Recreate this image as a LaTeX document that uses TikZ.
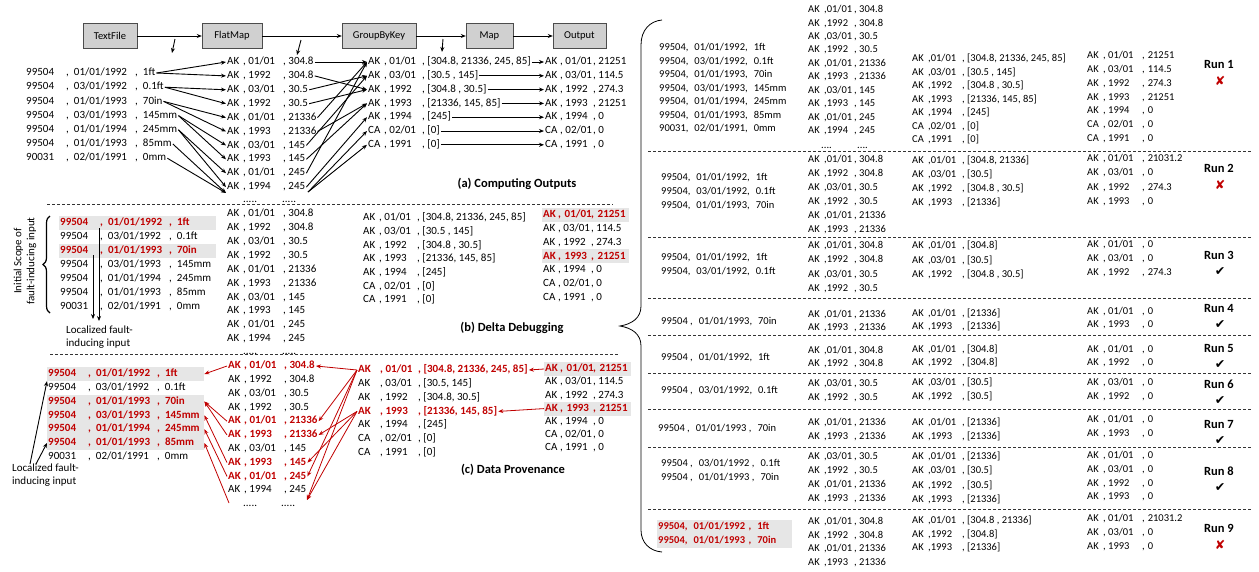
\documentclass[tikz,border=0pt]{standalone}
\usepackage{fontspec}
\setmainfont{Carlito}
\newfontfamily\symfont{DejaVu Sans}
\usepackage{xcolor}
\usepackage{tikz}
\usetikzlibrary{positioning,arrows.meta,decorations.pathreplacing}
\definecolor{provred}{HTML}{C00000}
\definecolor{hlgray}{HTML}{E6E6E6}
\definecolor{opgray}{HTML}{D0D0D0}
% record layouts with aligned columns
\newcommand{\inrec}[3]{\makebox[40pt][l]{#1}\makebox[69pt][l]{,\hspace{5pt}#2},\hspace{5pt}#3}
\newcommand{\fmrec}[3]{\makebox[16pt][l]{#1}\makebox[40pt][l]{, #2}, #3}
\newcommand{\gbrec}[3]{\makebox[16pt][l]{#1}\makebox[38pt][l]{, #2}, #3}
\newcommand{\pvrec}[3]{\makebox[22pt][l]{#1}\makebox[38pt][l]{, #2}, #3}
\newcommand{\outrec}[3]{\makebox[15pt][l]{#1}\makebox[33pt][l]{, #2}, #3}
\newcommand{\rin}[3]{#1,\hspace{6pt}#2,\hspace{6pt}#3}
\newcommand{\rfm}[3]{\makebox[16pt][l]{#1}\makebox[30pt][l]{,#2}, #3}
\newcommand{\rgb}[3]{\makebox[16pt][l]{#1}\makebox[34pt][l]{,#2}, #3}
\newcommand{\rout}[3]{\makebox[16pt][l]{#1}\makebox[39pt][l]{, #2},\hspace{3pt}#3}
\newcommand{\passmark}{{\symfont ✔}}
\newcommand{\failmark}{{\symfont\color{provred}✘}}
% one column of a run table: [style] prefix, x, first y, step, rows
\newcommand{\runcol}[6][]{%
  \foreach \t [count=\k from 0] in {#6}
    \node[runrec,#1] (#2\k) at (#3,#4+#5*\k) {\t};}
\newcommand{\ainlist}{\inrec{99504}{01/01/1992}{1ft},\inrec{99504}{03/01/1992}{0.1ft},\inrec{99504}{01/01/1993}{70in},\inrec{99504}{03/01/1993}{145mm},\inrec{99504}{01/01/1994}{245mm},\inrec{99504}{01/01/1993}{85mm},\inrec{90031}{02/01/1991}{0mm}}
\newcommand{\fmlist}{\fmrec{AK}{01/01}{304.8},\fmrec{AK}{1992}{304.8},\fmrec{AK}{03/01}{30.5},\fmrec{AK}{1992}{30.5},\fmrec{AK}{01/01}{21336},\fmrec{AK}{1993}{21336},\fmrec{AK}{03/01}{145},\fmrec{AK}{1993}{145},\fmrec{AK}{01/01}{245},\fmrec{AK}{1994}{245}}
\newcommand{\gblist}{\gbrec{AK}{01/01}{[304.8, 21336, 245, 85]},\gbrec{AK}{03/01}{[30.5 , 145]},\gbrec{AK}{1992}{[304.8 , 30.5]},\gbrec{AK}{1993}{[21336, 145, 85]},\gbrec{AK}{1994}{[245]},\gbrec{CA}{02/01}{[0]},\gbrec{CA}{1991}{[0]}}
\newcommand{\outlist}{\outrec{AK}{01/01}{21251},\outrec{AK}{03/01}{114.5},\outrec{AK}{1992}{274.3},\outrec{AK}{1993}{21251},\outrec{AK}{1994}{0},\outrec{CA}{02/01}{0},\outrec{CA}{1991}{0}}

\begin{document}
\begin{tikzpicture}[x=1pt, y=-1pt,
    opbox/.style={rectangle, draw=black!70, fill=opgray, minimum height=25pt,
        inner sep=0pt, font=\fontsize{10.5}{12}\selectfont},
    rec/.style={anchor=west, inner xsep=1pt, inner ysep=2pt, text height=7.6pt,
        text depth=2.4pt, font=\fontsize{11}{13}\selectfont},
    runrec/.style={rec, font=\fontsize{10.5}{12}\selectfont},
    plainrec/.style={},
    redrec/.style={text=provred, font=\fontsize{11}{13}\selectfont\bfseries},
    hotin/.style={redrec, fill=hlgray, text width=155pt, align=left},
    hotout/.style={redrec, fill=hlgray, text width=85pt, align=left},
    hotrun/.style={text=provred, font=\fontsize{10.5}{12}\selectfont\bfseries,
        fill=hlgray, text width=133pt, align=left},
    panelcap/.style={font=\fontsize{12.5}{15}\selectfont\bfseries},
    runlabel/.style={font=\fontsize{12.5}{15}\selectfont\bfseries},
    runmark/.style={font=\fontsize{12.5}{14}\selectfont, inner sep=0pt},
    notetext/.style={anchor=north west, align=left, inner sep=0pt,
        font=\fontsize{11}{13}\selectfont},
    divider/.style={black!80, dash pattern=on 3pt off 2pt, line width=0.6pt},
    arrow/.style={-{Stealth[length=5pt,width=4pt]}, line width=0.9pt},
    provarrow/.style={arrow, draw=provred, line width=0.8pt}
]
\useasboundingbox (0,0) rectangle (1259,571);

% (a) computing outputs
\node[opbox, minimum width=54pt] (textfile) at (110,36)   {TextFile};
\node[opbox, minimum width=60pt] (flatmap)  at (232,36)   {FlatMap};
\node[opbox, minimum width=74pt] (groupby)  at (379,36)   {GroupByKey};
\node[opbox, minimum width=47pt] (mapop)    at (489.5,36) {Map};
\node[opbox, minimum width=53pt] (output)   at (579.5,36) {Output};
\draw[arrow] (textfile) -- (flatmap);
\draw[arrow] (flatmap) -- (groupby);
\draw[arrow] (groupby) -- (mapop);
\draw[arrow] (mapop) -- (output);
\coordinate (tickin)  at (175,39); \coordinate (tickinend)  at (172,53);
\coordinate (tickfm)  at (301,40); \coordinate (tickfmend)  at (297,55);
\coordinate (tickgb)  at (443,39); \coordinate (tickgbend)  at (442,52);
\draw[arrow] (tickin) -- (tickinend);
\draw[arrow] (tickfm) -- (tickfmend);
\draw[arrow] (tickgb) -- (tickgbend);

\foreach \t [count=\k from 0] in \ainlist \node[rec] (ain\k) at (25,73+14.2*\k) {\t};
\foreach \t [count=\k from 0] in \fmlist  \node[rec] (afm\k) at (226,62+13.9*\k) {\t};
\foreach \t [count=\k from 0] in \gblist  \node[rec] (agb\k) at (367,62+13.8*\k) {\t};
\foreach \t [count=\k from 0] in \outlist \node[rec] (aout\k) at (544,62+13.8*\k) {\t};
\node[rec] (adots1) at (242,200) {.....};
\node[rec] (adots2) at (281,200) {.....};
\coordinate (afmmore) at (226,193);
\coordinate (agbmore) at (308,192);

\foreach \i/\j in {0/0,0/1,1/2,1/3,2/4,2/5,3/6,3/7,4/8,4/9}
  \draw[arrow] (ain\i.east) -- (afm\j.west);
\draw[arrow] (ain5.east) -- (afmmore);
\draw[arrow] (ain6.east) -- (afmmore);
\foreach \i/\j in {0/0,1/2,2/1,3/2,4/0,5/3,6/1,7/3,8/0,9/4}
  \draw[arrow] (afm\i.east) -- (agb\j.west);
\draw[arrow] (agbmore) -- (agb5.west);
\draw[arrow] (agbmore) -- (agb6.west);
\foreach \k in {0,...,6} \draw[arrow] (agb\k.east) -- (aout\k.west);
\node[panelcap] (capa) at (517,184) {(a) Computing Outputs};

\draw[divider] (47,204) -- (613,204);

% (b) delta debugging
\foreach \s/\t [count=\k from 0] in {hotin/{\inrec{99504}{01/01/1992}{1ft}},
    plainrec/{\inrec{99504}{03/01/1992}{0.1ft}}, hotin/{\inrec{99504}{01/01/1993}{70in}},
    plainrec/{\inrec{99504}{03/01/1993}{145mm}}, plainrec/{\inrec{99504}{01/01/1994}{245mm}},
    plainrec/{\inrec{99504}{01/01/1993}{85mm}}, plainrec/{\inrec{90031}{02/01/1991}{0mm}}}
  \node[rec,\s] (bin\k) at (59,223+14*\k) {\t};
\foreach \t [count=\k from 0] in \fmlist \node[rec] (bfm\k) at (226,214+13.9*\k) {\t};
\foreach \t [count=\k from 0] in \gblist \node[rec] (bgb\k) at (362,218+13.7*\k) {\t};
\foreach \s/\t [count=\k from 0] in {hotout/{\outrec{AK}{01/01}{21251}},
    plainrec/{\outrec{AK}{03/01}{114.5}}, plainrec/{\outrec{AK}{1992}{274.3}},
    hotout/{\outrec{AK}{1993}{21251}}, plainrec/{\outrec{AK}{1994}{0}},
    plainrec/{\outrec{CA}{02/01}{0}}, plainrec/{\outrec{CA}{1991}{0}}}
  \node[rec,\s] (bout\k) at (542,215+13.8*\k) {\t};
\node[rec] (bdots1) at (242,352) {.....};
\node[rec] (bdots2) at (281,352) {.....};

\draw[decorate, decoration={brace, amplitude=7pt}, line width=1.2pt] (50,313) -- (50,216);
\node[rotate=90, align=center, font=\fontsize{11}{13}\selectfont] (scope) at (25,261)
    {Initial Scope of\\fault-inducing input};
\node[notetext] (blocal) at (66,326) {Localized fault-\\inducing input};
\coordinate (bpick0) at (99,228); \coordinate (bdrop0) at (99,321);
\coordinate (bpick2) at (93,255); \coordinate (bdrop2) at (93,319);
\draw[arrow, line width=0.8pt] (bpick0) -- (bdrop0);
\draw[arrow, line width=0.8pt] (bpick2) -- (bdrop2);
\node[panelcap] (capb) at (512,328) {(b) Delta Debugging};

\draw[divider] (50,354) -- (618,354);

% (c) data provenance
\foreach \s/\t [count=\k from 0] in {hotin/{\inrec{99504}{01/01/1992}{1ft}},
    plainrec/{\inrec{99504}{03/01/1992}{0.1ft}}, hotin/{\inrec{99504}{01/01/1993}{70in}},
    hotin/{\inrec{99504}{03/01/1993}{145mm}}, hotin/{\inrec{99504}{01/01/1994}{245mm}},
    hotin/{\inrec{99504}{01/01/1993}{85mm}}, plainrec/{\inrec{90031}{02/01/1991}{0mm}}}
  \node[rec,\s] (cin\k) at (47,374+13.8*\k) {\t};
\foreach \s/\t [count=\k from 0] in {redrec/{\fmrec{AK}{01/01}{304.8}},
    plainrec/{\fmrec{AK}{1992}{304.8}}, plainrec/{\fmrec{AK}{03/01}{30.5}},
    plainrec/{\fmrec{AK}{1992}{30.5}}, redrec/{\fmrec{AK}{01/01}{21336}},
    redrec/{\fmrec{AK}{1993}{21336}}, plainrec/{\fmrec{AK}{03/01}{145}},
    redrec/{\fmrec{AK}{1993}{145}}, redrec/{\fmrec{AK}{01/01}{245}},
    plainrec/{\fmrec{AK}{1994}{245}}}
  \node[rec,\s] (cfm\k) at (227,366+13.8*\k) {\t};
\foreach \s/\t [count=\k from 0] in {redrec/{\pvrec{AK}{01/01}{[304.8, 21336, 245, 85]}},
    plainrec/{\pvrec{AK}{03/01}{[30.5, 145]}}, plainrec/{\pvrec{AK}{1992}{[304.8, 30.5]}},
    redrec/{\pvrec{AK}{1993}{[21336, 145, 85]}}, plainrec/{\pvrec{AK}{1994}{[245]}},
    plainrec/{\pvrec{CA}{02/01}{[0]}}, plainrec/{\pvrec{CA}{1991}{[0]}}}
  \node[rec,\s] (cgb\k) at (357,370+13.8*\k) {\t};
\foreach \s/\t [count=\k from 0] in {hotout/{\outrec{AK}{01/01}{21251}},
    plainrec/{\outrec{AK}{03/01}{114.5}}, plainrec/{\outrec{AK}{1992}{274.3}},
    hotout/{\outrec{AK}{1993}{21251}}, plainrec/{\outrec{AK}{1994}{0}},
    plainrec/{\outrec{CA}{02/01}{0}}, plainrec/{\outrec{CA}{1991}{0}}}
  \node[rec,\s] (cout\k) at (544,369+13.2*\k) {\t};
\node[rec] (cdots1) at (242,504) {.....};
\node[rec] (cdots2) at (280,504) {.....};
\coordinate (cfmmore) at (307,500);
\coordinate (cinmore) at (229,503);

\draw[provarrow] (cout0.west) -- (cgb0.east);
\draw[provarrow] (cout3.west) -- (cgb3.east);
\foreach \j in {0,4,8} \draw[provarrow] (cgb0.west) -- (cfm\j.east);
\draw[provarrow] (cgb0.west) -- (cfmmore);
\foreach \j in {5,7} \draw[provarrow] (cgb3.west) -- (cfm\j.east);
\draw[provarrow] (cgb3.west) -- (cfmmore);
\foreach \i/\j in {0/0,4/2,5/2,7/3,8/4} \draw[provarrow] (cfm\i.west) -- (cin\j.east);
\draw[provarrow] (cinmore) -- (cin5.east);

\node[notetext] (clocal) at (12,464) {Localized fault-\\inducing input};
\draw[arrow] ([xshift=18pt]clocal.north west) -- (cin0.south west);
\draw[arrow] ([xshift=24pt]clocal.north west) -- (cin5.west);
\node[panelcap] (capc) at (513,470) {(c) Data Provenance};

% brace towards the runs
\draw[line width=0.8pt] (662,20) .. controls (650,21) and (641,30) .. (641,45)
    -- (641,306) .. controls (641,318) and (632,324) .. (620,326)
    .. controls (632,328) and (641,334) .. (641,346)
    -- (641,530) .. controls (641,543) and (650,551) .. (662,552);

% delta debugging runs
\runcol{r1in}{658}{48}{13.5}{\rin{99504}{01/01/1992}{1ft},\rin{99504}{03/01/1992}{0.1ft},
  \rin{99504}{01/01/1993}{70in},\rin{99504}{03/01/1993}{145mm},\rin{99504}{01/01/1994}{245mm},
  \rin{99504}{01/01/1993}{85mm},\rin{90031}{02/01/1991}{0mm}}
\runcol{r1fm}{807}{10}{13.45}{\rfm{AK}{01/01}{304.8},\rfm{AK}{1992}{304.8},
  \rfm{AK}{03/01}{30.5},\rfm{AK}{1992}{30.5},\rfm{AK}{01/01}{21336},\rfm{AK}{1993}{21336},
  \rfm{AK}{03/01}{145},\rfm{AK}{1993}{145},\rfm{AK}{01/01}{245},\rfm{AK}{1994}{245}}
\runcol{r1gb}{911}{59}{13.5}{\rgb{AK}{01/01}{[304.8, 21336, 245, 85]},
  \rgb{AK}{03/01}{[30.5 , 145]},\rgb{AK}{1992}{[304.8 , 30.5]},
  \rgb{AK}{1993}{[21336, 145, 85]},\rgb{AK}{1994}{[245]},\rgb{CA}{02/01}{[0]},
  \rgb{CA}{1991}{[0]}}
\runcol{r1out}{1086}{56}{13.8}{\rout{AK}{01/01}{21251},\rout{AK}{03/01}{114.5},
  \rout{AK}{1992}{274.3},\rout{AK}{1993}{21251},\rout{AK}{1994}{0},
  \rout{CA}{02/01}{0},\rout{CA}{1991}{0}}
\node[runrec] (r1dots1) at (820,146) {....};
\node[runrec] (r1dots2) at (856,146) {....};

\runcol{r2in}{660}{178}{13.7}{\rin{99504}{01/01/1992}{1ft},\rin{99504}{03/01/1992}{0.1ft},
  \rin{99504}{01/01/1993}{70in}}
\runcol{r2fm}{807}{160}{14}{\rfm{AK}{01/01}{304.8},\rfm{AK}{1992}{304.8},
  \rfm{AK}{03/01}{30.5},\rfm{AK}{1992}{30.5},\rfm{AK}{01/01}{21336},\rfm{AK}{1993}{21336}}
\runcol{r2gb}{911}{161}{14}{\rgb{AK}{01/01}{[304.8, 21336]},\rgb{AK}{03/01}{[30.5]},
  \rgb{AK}{1992}{[304.8 , 30.5]},\rgb{AK}{1993}{[21336]}}
\runcol{r2out}{1086}{159}{14.3}{\rout{AK}{01/01}{21031.2},\rout{AK}{03/01}{0},
  \rout{AK}{1992}{274.3},\rout{AK}{1993}{0}}

\runcol{r3in}{660}{258}{14}{\rin{99504}{01/01/1992}{1ft},\rin{99504}{03/01/1992}{0.1ft}}
\runcol{r3fm}{807}{246}{14.3}{\rfm{AK}{01/01}{304.8},\rfm{AK}{1992}{304.8},
  \rfm{AK}{03/01}{30.5},\rfm{AK}{1992}{30.5}}
\runcol{r3gb}{911}{246}{14.5}{\rgb{AK}{01/01}{[304.8]},\rgb{AK}{03/01}{[30.5]},
  \rgb{AK}{1992}{[304.8 , 30.5]}}
\runcol{r3out}{1086}{245}{14}{\rout{AK}{01/01}{0},\rout{AK}{03/01}{0},\rout{AK}{1992}{274.3}}

\runcol{r4in}{660}{322}{13}{\rin{99504 }{01/01/1993}{70in}}
\runcol{r4fm}{807}{315}{13}{\rfm{AK}{01/01}{21336},\rfm{AK}{1993}{21336}}
\runcol{r4gb}{911}{314}{13}{\rgb{AK}{01/01}{[21336]},\rgb{AK}{1993}{[21336]}}
\runcol{r4out}{1086}{312}{13}{\rout{AK}{01/01}{0},\rout{AK}{1993}{0}}

\runcol{r5in}{660}{358}{13}{\rin{99504 }{01/01/1992}{1ft}}
\runcol{r5fm}{807}{351}{13}{\rfm{AK}{01/01}{304.8},\rfm{AK}{1992}{304.8}}
\runcol{r5gb}{911}{350}{13}{\rgb{AK}{01/01}{[304.8]},\rgb{AK}{1992}{[304.8]}}
\runcol{r5out}{1086}{350}{13}{\rout{AK}{01/01}{0},\rout{AK}{1992}{0}}

\runcol{r6in}{660}{391}{14}{\rin{99504 }{03/01/1992}{0.1ft}}
\runcol{r6fm}{807}{384}{14}{\rfm{AK}{03/01}{30.5},\rfm{AK}{1992}{30.5}}
\runcol{r6gb}{911}{383}{14}{\rgb{AK}{03/01}{[30.5]},\rgb{AK}{1992}{[30.5]}}
\runcol{r6out}{1086}{383}{14}{\rout{AK}{03/01}{0},\rout{AK}{1992}{0}}

\runcol{r7in}{657}{429}{14}{\rin{99504 }{01/01/1993 }{70in}}
\runcol{r7fm}{807}{423}{14}{\rfm{AK}{01/01}{21336},\rfm{AK}{1993}{21336}}
\runcol{r7gb}{911}{423}{13.5}{\rgb{AK}{01/01}{[21336]},\rgb{AK}{1993}{[21336]}}
\runcol{r7out}{1086}{420}{14}{\rout{AK}{01/01}{0},\rout{AK}{1993}{0}}

\runcol{r8in}{660}{464}{13.5}{\rin{99504 }{03/01/1992 }{0.1ft},\rin{99504 }{01/01/1993 }{70in}}
\runcol{r8fm}{807}{457}{14}{\rfm{AK}{03/01}{30.5},\rfm{AK}{1992}{30.5},
  \rfm{AK}{01/01}{21336},\rfm{AK}{1993}{21336}}
\runcol{r8gb}{911}{457}{14.3}{\rgb{AK}{01/01}{[21336]},\rgb{AK}{03/01}{[30.5]},
  \rgb{AK}{1992}{[30.5]},\rgb{AK}{1993}{[21336]}}
\runcol{r8out}{1086}{456}{13.7}{\rout{AK}{01/01}{0},\rout{AK}{03/01}{0},
  \rout{AK}{1992}{0},\rout{AK}{1993}{0}}

\runcol[hotrun]{r9in}{657}{527}{14}{\rin{99504}{01/01/1992 }{1ft},\rin{99504}{01/01/1993 }{70in}}
\runcol{r9fm}{807}{522}{13.5}{\rfm{AK}{01/01}{304.8},\rfm{AK}{1992}{304.8},
  \rfm{AK}{01/01}{21336},\rfm{AK}{1993}{21336}}
\runcol{r9gb}{911}{521}{13.5}{\rgb{AK}{01/01}{[304.8 , 21336]},\rgb{AK}{1992}{[304.8]},
  \rgb{AK}{1993}{[21336]}}
\runcol{r9out}{1086}{519}{14}{\rout{AK}{01/01}{21031.2},\rout{AK}{03/01}{0},
  \rout{AK}{1993}{0}}

\foreach \n/\ly/\m in {1/64/\failmark, 2/168/\failmark, 3/255/\passmark,
    4/308/\passmark, 5/348/\passmark, 6/384/\passmark, 7/424/\passmark,
    8/471/\passmark, 9/528/\failmark} {
  \node[runlabel] (run\n) at (1219,\ly) {Run \n};
  \node[runmark] (mark\n) at (1220,\ly+17) {\m};
}
\foreach \ly in {151,237,298,335,373,409,447,509} \draw[divider] (648,\ly) -- (1252,\ly);
\end{tikzpicture}
\end{document}
